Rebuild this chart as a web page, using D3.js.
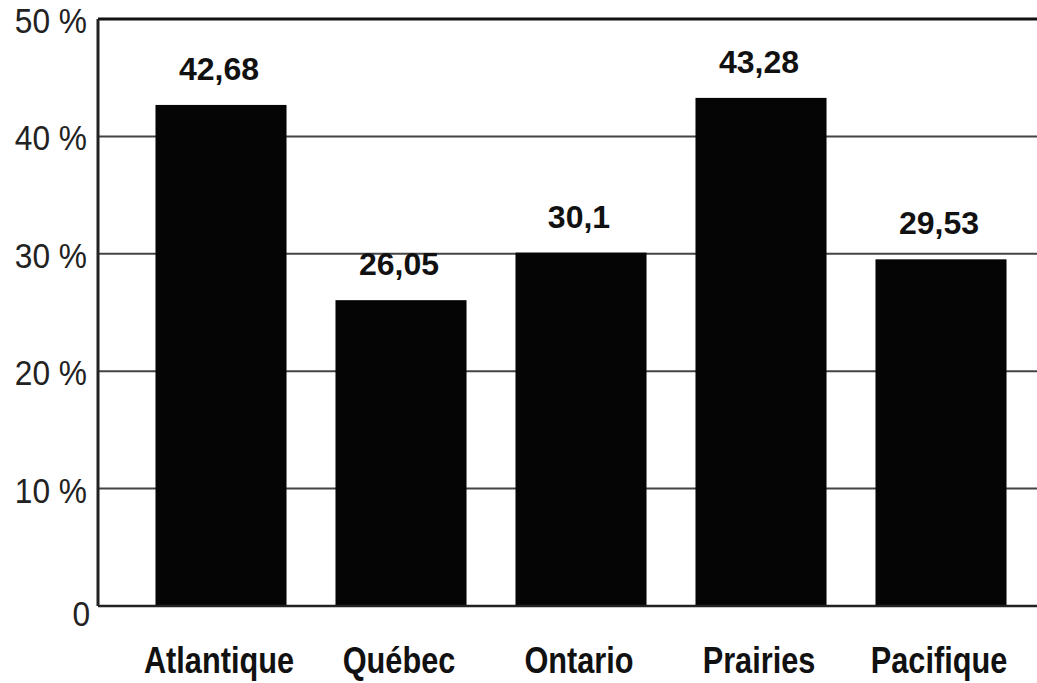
<!DOCTYPE html>
<html>
<head>
<meta charset="utf-8">
<script src="https://cdn.jsdelivr.net/npm/d3@7"></script>
<style>
  body { margin: 0; background: #fff; }
</style>
</head>
<body>
<svg id="chart"></svg>
<script>

var regions = ["Atlantique", "Québec", "Ontario", "Prairies", "Pacifique"];
var values = [42.68, 26.05, 30.1, 43.28, 29.53];
var valueLabels = ["42,68", "26,05", "30,1", "43,28", "29,53"];
var yTicks = [0, 10, 20, 30, 40, 50];

var canvas_width = 1037;
var canvas_height = 683;

var svg = d3.select("#chart")
            .attr("width", canvas_width)
            .attr("height", canvas_height);

// scales
var xScale = d3.scaleBand()
                .domain(regions)
                .range([131, 1031])
                .paddingInner(0.272)
                .paddingOuter(0.136);

var yScale = d3.scaleLinear()
                .domain([0, 50])
                .range([606, 19]);

var plotLeft = 98;
var plotRight = 1037;

// grid lines
svg.selectAll(".grid")
    .data(yTicks.filter(function(d){ return d > 0 && d < 50; }))
    .enter()
    .append("line")
    .attr("class", "grid")
    .attr("x1", plotLeft)
    .attr("x2", plotRight)
    .attr("y1", function(d){ return yScale(d); })
    .attr("y2", function(d){ return yScale(d); })
    .attr("stroke", "#444")
    .attr("stroke-width", 2);

// bars
svg.selectAll("rect")
    .data(values)
    .enter()
    .append("rect")
    .attr("x", function(d, i){ return xScale(regions[i]); })
    .attr("y", function(d){ return yScale(d); })
    .attr("width", xScale.bandwidth())
    .attr("height", function(d){ return yScale(0) - yScale(d); })
    .attr("fill", "#050505");

// value labels above bars
svg.selectAll(".val")
    .data(values)
    .enter()
    .append("text")
    .attr("class", "val")
    .attr("x", function(d, i){ return xScale(regions[i]) + xScale.bandwidth() / 2 - 2; })
    .attr("y", function(d){ return yScale(d) - 25; })
    .attr("text-anchor", "middle")
    .attr("font-family", "Liberation Sans, Arial, sans-serif")
    .attr("font-weight", "bold")
    .attr("font-size", "32px")
    .attr("fill", "#111")
    .text(function(d, i){ return valueLabels[i]; });

// top border
svg.append("line")
    .attr("x1", plotLeft)
    .attr("x2", plotRight)
    .attr("y1", yScale(50))
    .attr("y2", yScale(50))
    .attr("stroke", "#111")
    .attr("stroke-width", 3);

// zero line
svg.append("line")
    .attr("x1", plotLeft)
    .attr("x2", plotRight)
    .attr("y1", yScale(0))
    .attr("y2", yScale(0))
    .attr("stroke", "#222")
    .attr("stroke-width", 2.5);

// y axis line
svg.append("line")
    .attr("x1", plotLeft)
    .attr("x2", plotLeft)
    .attr("y1", yScale(50))
    .attr("y2", yScale(0))
    .attr("stroke", "#222")
    .attr("stroke-width", 3);

// y tick labels (condensed with a horizontal squeeze, no narrow font installed)
var tickG = svg.selectAll(".ytick")
    .data(yTicks)
    .enter()
    .append("g")
    .attr("class", "ytick")
    .attr("transform", function(d){
        var off = d == 0 ? 20 : 14;
        return "translate(" + (d == 0 ? 90 : 87) + "," + (yScale(d) + off) + ") scale(0.88,1)";
    });

tickG.append("text")
    .attr("text-anchor", "end")
    .attr("font-family", "Liberation Sans, Arial, sans-serif")
    .attr("font-size", "36px")
    .attr("fill", "#222")
    .text(function(d){ return d == 0 ? "0" : d + " %"; });

// x category labels
var catG = svg.selectAll(".cat")
    .data(regions)
    .enter()
    .append("g")
    .attr("class", "cat")
    .attr("transform", function(d){
        return "translate(" + (xScale(d) + xScale.bandwidth() / 2 - 2) + ",673) scale(0.83,1)";
    });

catG.append("text")
    .attr("text-anchor", "middle")
    .attr("font-family", "Liberation Sans, Arial, sans-serif")
    .attr("font-weight", "bold")
    .attr("font-size", "37px")
    .attr("fill", "#111")
    .text(function(d){ return d; });

</script>
</body>
</html>
